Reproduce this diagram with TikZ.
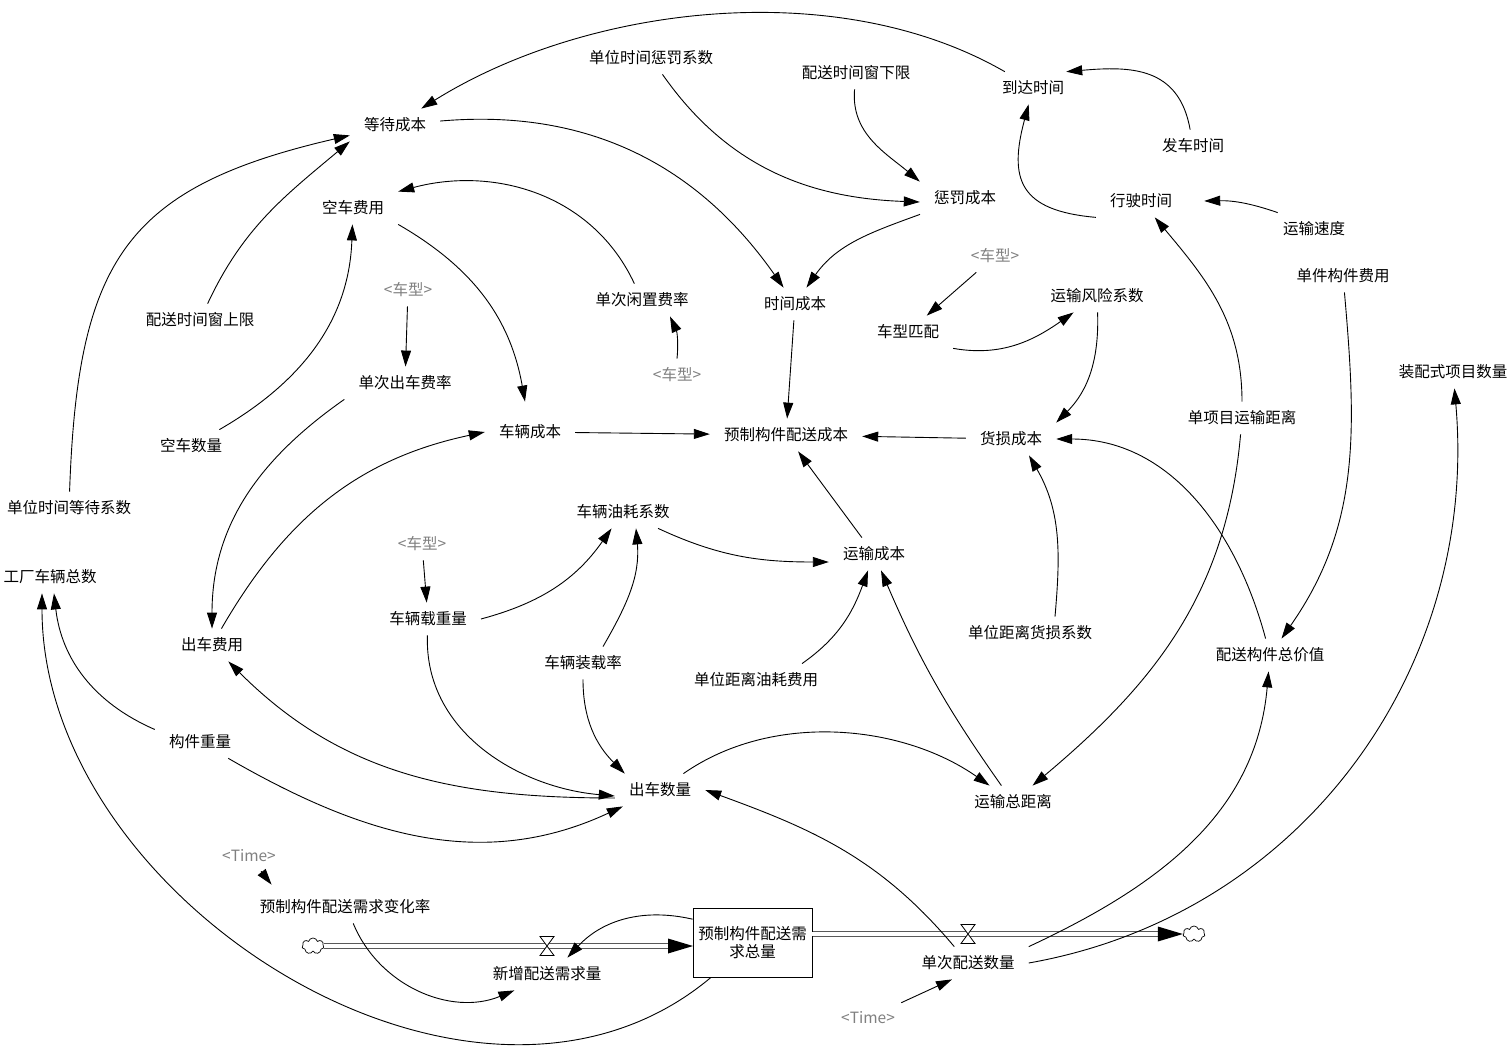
\documentclass[tikz,border=0pt]{standalone}
\usepackage{fontspec}
\setmainfont{Noto Sans CJK SC}
\usetikzlibrary{arrows.meta,shapes.symbols}
\definecolor{ghostgray}{gray}{0.5}
\begin{document}
\begin{tikzpicture}[x=1pt,y=1pt,
  var/.style={inner xsep=14pt, inner ysep=9pt, font=\fontsize{15.5}{18}\selectfont},
  ghost/.style={var, text=ghostgray},
  link/.style={line width=0.9pt, -{Triangle[length=16pt,width=10pt]}},
  pipeline/.style={double=white, double distance=3.6pt, line width=0.9pt},
  cloudy/.style={cloud, draw, cloud puffs=7, aspect=1.4, minimum width=22pt, minimum height=16pt, inner sep=0pt, line width=0.7pt},
  valvebox/.style={fill=white, draw, line width=0.8pt}
]
\useasboundingbox[fill=white] (0,0) rectangle (1509,-1054);

% ---------- variables ----------
\node[var] (wait) at (395,-125) {等待成本};
\node[var] (pencoef) at (651,-58) {单位时间惩罚系数};
\node[var] (lower) at (856,-73) {配送时间窗下限};
\node[var] (arrive) at (1033,-88) {到达时间};
\node[var] (depart) at (1193,-146) {发车时间};
\node[var] (penalty) at (965,-198) {惩罚成本};
\node[var] (drive) at (1141,-201) {行驶时间};
\node[var] (speed) at (1314,-229) {运输速度};
\node[var] (empty) at (353,-208) {空车费用};
\node[ghost] (typeA) at (408,-290) {<车型>};
\node[var] (idle) at (642,-300) {单次闲置费率};
\node[var] (timecost) at (795,-304) {时间成本};
\node[ghost] (typeB) at (995,-256) {<车型>};
\node[var] (match) at (908,-332) {车型匹配};
\node[var] (risk) at (1097,-296) {运输风险系数};
\node[var] (unit) at (1343,-276) {单件构件费用};
\node[var] (upper) at (200,-320) {配送时间窗上限};
\node[var] (triprate) at (405,-383) {单次出车费率};
\node[ghost] (typeC) at (677,-375) {<车型>};
\node[var] (projects) at (1453,-372) {装配式项目数量};
\node[var] (emptynum) at (191,-446) {空车数量};
\node[var] (vehcost) at (530,-432) {车辆成本};
\node[var] (total) at (786,-435) {预制构件配送成本};
\node[var] (damage) at (1011,-439) {货损成本};
\node[var] (dist) at (1242,-418) {单项目运输距离};
\node[var] (waitcoef) at (69,-508) {单位时间等待系数};
\node[var] (fuel) at (623,-512) {车辆油耗系数};
\node[ghost] (typeD) at (422,-544) {<车型>};
\node[var] (trans) at (874,-554) {运输成本};
\node[var] (fleet) at (50,-577) {工厂车辆总数};
\node[var] (load) at (428,-619) {车辆载重量};
\node[var] (damcoef) at (1030,-633) {单位距离货损系数};
\node[var] (tripcost) at (212,-645) {出车费用};
\node[var] (value) at (1270,-655) {配送构件总价值};
\node[var] (loadrate) at (583,-663) {车辆装载率};
\node[var] (fuelunit) at (756,-680) {单位距离油耗费用};
\node[var] (weight) at (200,-742) {构件重量};
\node[var] (trips) at (660,-790) {出车数量};
\node[var] (totdist) at (1013,-802) {运输总距离};
\node[ghost] (timeA) at (249,-856) {<Time>};
\node[var] (rate) at (345,-907) {预制构件配送需求变化率};
\node[draw, line width=0.9pt, minimum width=119pt, minimum height=69pt, inner sep=2pt,
      align=center, font=\fontsize{15.5}{18}\selectfont] (stock) at (752.5,-942.5) {预制构件配送需\\求总量};
\node[var] (newdem) at (547,-974) {新增配送需求量};
\node[var] (qty) at (968,-963) {单次配送数量};
\node[ghost] (timeB) at (868,-1018) {<Time>};

% ---------- flows ----------
\node[cloudy] (cloudL) at (313,-946) {};
\node[cloudy] (cloudR) at (1194,-934) {};
\coordinate (inS) at (693,-946);
\coordinate (outS) at (812,-934);
\coordinate (valveA) at (547,-946);
\coordinate (valveB) at (968,-934);

\draw[pipeline] (cloudL.east) -- ([xshift=-20pt]inS);
\fill ([xshift=-25pt,yshift=7.5pt]inS) -- (inS) -- ([xshift=-25pt,yshift=-7.5pt]inS) -- cycle;
\draw[pipeline] (outS) -- ([xshift=-20pt]cloudR.west);
\fill ([xshift=-25pt,yshift=7.5pt]cloudR.west) -- (cloudR.west) -- ([xshift=-25pt,yshift=-7.5pt]cloudR.west) -- cycle;

\draw[valvebox] ([shift={(-7,9.5)}]valveA) -- ([shift={(7,9.5)}]valveA) -- ([shift={(-7,-9.5)}]valveA) -- ([shift={(7,-9.5)}]valveA) -- cycle;
\draw[valvebox] ([shift={(-7,9.5)}]valveB) -- ([shift={(7,9.5)}]valveB) -- ([shift={(-7,-9.5)}]valveB) -- ([shift={(7,-9.5)}]valveB) -- cycle;

% ---------- connectors ----------
\draw[link] (arrive) to[out=150,in=32,looseness=0.85] (wait);
\draw[link] (waitcoef) to[out=88,in=193,looseness=1.3] (wait);
\draw[link] (upper) to[out=65,in=220] (wait.south west);
\draw[link] (wait) to[out=5,in=125] (timecost);
\draw[link] (pencoef) to[out=-55,in=178] ([yshift=-4pt]penalty.west);
\draw[link] (lower) to[out=265,in=140] (penalty.north west);
\draw[link] (penalty) to[out=200,in=55] (timecost);
\draw[link] (depart) to[out=100,in=5,looseness=1.2] ([xshift=-12pt]arrive.north east);
\draw[link] (drive.south west) to[out=175,in=255,looseness=1.5] (arrive);
\draw[link] (speed) to[bend right=10] ([xshift=18pt]drive.east);
\draw[link] (idle) to[out=115,in=15] (empty.north east);
\draw[link] (emptynum) to[out=30,in=268] (empty);
\draw[link] (empty.south east) to[out=-30,in=100] ([xshift=-5pt,yshift=14pt]vehcost.north);
\draw[link] (typeA) -- (triprate);
\draw[link] (typeC.north) to[bend right=15] ([xshift=28pt]idle.south);
\draw[link] (triprate.south west) to[out=215,in=90] (tripcost);
\draw[link] (tripcost) to[out=60,in=192] (vehcost.west);
\draw[link] (vehcost) -- (total);
\draw[link] (timecost) -- (total);
\draw[link] (damage) -- (total);
\draw[link] (trans) -- (total);
\draw[link] (typeB) -- (match);
\draw[link] (match.south east) to[out=-10,in=215] (risk);
\draw[link] (risk) to[out=-88,in=45] (damage.north east);
\draw[link] ([xshift=25pt]damcoef.north) to[out=85,in=300] ([xshift=18pt]damage.south);
\draw[link] (value) to[out=105,in=0] (damage.east);
\draw[link] (dist) to[out=90,in=310] (drive);
\draw[link] (dist) to[out=265,in=40] (totdist);
\draw[link] (unit) to[out=-85,in=55] (value);
\draw[link] (qty.north east) to[out=25,in=265] (value);
\draw[link] (qty.east) to[out=10,in=275] (projects);
\draw[link] (fuel) to[out=-25,in=180] ([yshift=-8pt]trans.west);
\draw[link] (load.east) to[out=15,in=235] (fuel);
\draw[link] ([xshift=20pt]loadrate.north) to[out=60,in=275] ([xshift=13pt]fuel.south);
\draw[link] (typeD) -- (load);
\draw[link] ([xshift=46pt]fuelunit.north) to[out=35,in=250] (trans);
\draw[link] (totdist) to[bend left=6] (trans);
\draw[link] (trips) to[out=35,in=145,looseness=0.9] (totdist);
\draw[link] (load) to[out=268,in=175] ([yshift=-6pt]trips.west);
\draw[link] (loadrate) to[out=270,in=135] ([xshift=10pt]trips.north west);
\draw[link] ([yshift=-8pt]trips.west) to[out=180,in=315] (tripcost);
\draw[link] (weight) to[out=-30,in=205] ([xshift=8pt]trips.south west);
\draw[link] (weight) to[bend left=30] ([xshift=4pt]fleet.south);
\draw[link] (stock) to[out=220,in=270,looseness=1.02] ([xshift=-8pt]fleet.south);
\draw[link] (qty) to[out=130,in=340] (trips.east);
\draw[link] (rate) to[bend right=45] (newdem);
\draw[link] (timeA) -- ([xshift=26pt,yshift=6pt]rate.north west);
\draw[link] (stock) to[bend right=30] (newdem);
\draw[link] (timeB) -- ([xshift=-16pt]qty.south);
\end{tikzpicture}
\end{document}
